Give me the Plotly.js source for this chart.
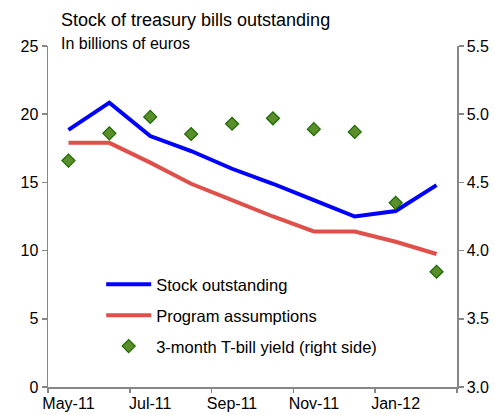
<!DOCTYPE html>
<html><head><meta charset="utf-8">
<script src="https://cdn.plot.ly/plotly-3.0.1.min.js"></script>
<style>html,body{margin:0;padding:0;background:#fff}#c{width:495px;height:415px}</style>
</head><body><div id="c"></div>
<script>
const months = ["May-11","Jun-11","Jul-11","Aug-11","Sep-11","Oct-11","Nov-11","Dec-11","Jan-12","Feb-12"];
const tickLabels = ["May-11","Jul-11","Sep-11","Nov-11","Jan-12"];
const stockOutstanding = [18.85, 20.85, 18.4, 17.3, 16.0, 14.9, 13.7, 12.5, 12.9, 14.8];
const programAssumptions = [17.9, 17.9, 16.45, 14.9, 13.7, 12.5, 11.4, 11.4, 10.65, 9.75];
const tbillYield = [4.66, 4.86, 4.98, 4.855, 4.93, 4.97, 4.89, 4.87, 4.35, 3.845];

const idx = months.map((m,i)=>i);
const tickIdx = idx.filter(i=>i%2===0);
const boundaries = [];
for (let i=0;i<=months.length;i+=2) boundaries.push(i-0.5);

const font = "Liberation Sans, Arial, sans-serif";
const traces = [
  {x: idx, y: stockOutstanding, name: "Stock outstanding", type: "scatter", mode: "lines",
   legendgroup: "a", line: {color: "#0000FF", width: 4}},
  {x: idx, y: programAssumptions, name: "Program assumptions", type: "scatter", mode: "lines",
   legendgroup: "b", line: {color: "#E0504A", width: 4}},
  {x: idx, y: tbillYield, name: "3-month T-bill yield (right side)", type: "scatter", mode: "markers",
   legendgroup: "c", yaxis: "y2",
   marker: {symbol: "diamond", size: 10, color: "#5A8E2A", line: {color: "#1B6A00", width: 1.2}}}
];
const layout = {
  width: 495, height: 415,
  margin: {l: 48, r: 38, t: 46, b: 28},
  paper_bgcolor: "#fff", plot_bgcolor: "#fff",
  showlegend: true,
  font: {family: font, size: 16, color: "#000"},
  legend: {x: 0.13, y: 0.352, xanchor: "left", yanchor: "top", bgcolor: "rgba(0,0,0,0)",
    font: {family: font, size: 16.5, color: "#000"}, traceorder: "grouped", tracegroupgap: 6.5, itemwidth: 45},
  xaxis: {range: [-0.5, 9.5], tickvals: tickIdx, ticktext: tickLabels, ticks: "", showgrid: false,
    zeroline: false, showline: true, linecolor: "#868686", linewidth: 1.5, tickfont: {size: 16},
    ticklabelstandoff: 1},
  xaxis2: {overlaying: "x", range: [-0.5, 9.5], tickvals: boundaries, ticks: "outside", ticklen: 5,
    tickcolor: "#868686", tickwidth: 1.5, showticklabels: false, showgrid: false, zeroline: false, anchor: "y"},
  yaxis: {range: [0, 25], tickvals: [0,5,10,15,20,25], ticks: "outside", ticklen: 5, tickcolor: "#868686",
    tickwidth: 1.5, showgrid: false, zeroline: false, showline: true, linecolor: "#868686", linewidth: 1.5,
    tickfont: {size: 16}},
  yaxis2: {range: [3.0, 5.5], tickvals: [3.0,3.5,4.0,4.5,5.0,5.5], tickformat: ".1f", overlaying: "y",
    side: "right", ticks: "outside", ticklen: 5, tickcolor: "#868686", tickwidth: 1.5, showgrid: false,
    zeroline: false, showline: true, linecolor: "#868686", linewidth: 1.5, tickfont: {size: 16}},
  annotations: [
    {text: "Stock of treasury bills outstanding", xref: "paper", yref: "paper", x: 0.027, y: 1.0, yshift: 26,
     xanchor: "left", yanchor: "middle", showarrow: false, font: {family: font, size: 18, color: "#000"}},
    {text: "In billions of euros", xref: "paper", yref: "paper", x: 0.027, y: 1.0, yshift: 3,
     xanchor: "left", yanchor: "middle", showarrow: false, font: {family: font, size: 16, color: "#000"}}
  ]
};
traces.push({x: [0], y: [null], xaxis: "x2", showlegend: false, hoverinfo: "skip", type: "scatter", mode: "lines"});
Plotly.newPlot("c", traces, layout, {staticPlot: true});
</script></body></html>
